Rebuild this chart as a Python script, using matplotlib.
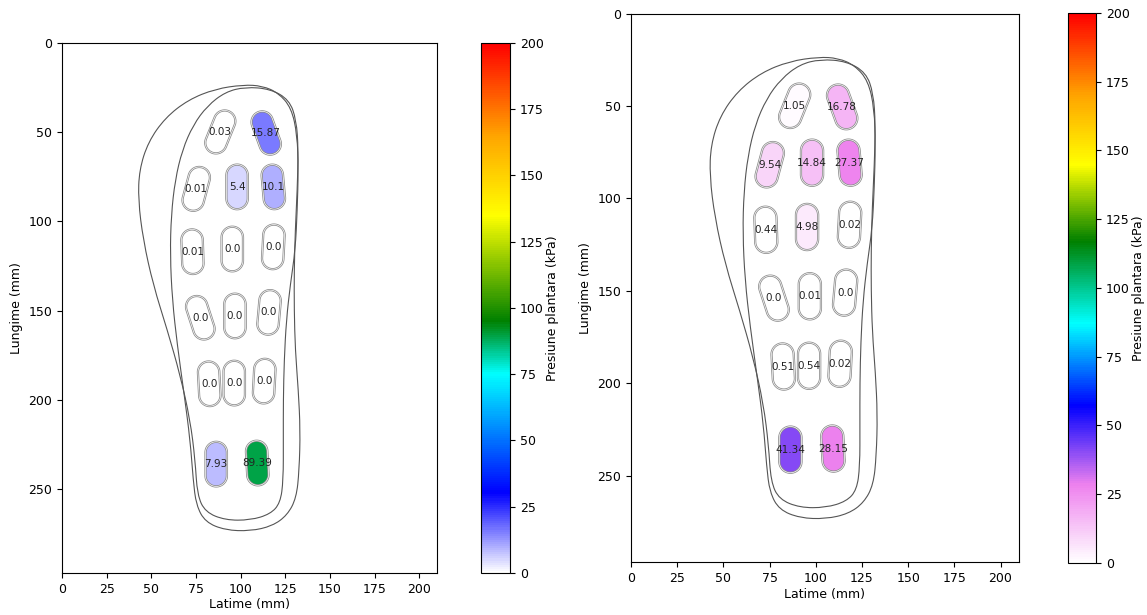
import numpy as np
import matplotlib
matplotlib.use('Agg')
import matplotlib.pyplot as plt
from matplotlib.colors import LinearSegmentedColormap, Normalize
from matplotlib.path import Path
from matplotlib.patches import PathPatch, Polygon
from matplotlib.cm import ScalarMappable

# Sensor centres on the insole (mm) and tilt of each sensor (deg, + = top leans right)
sensor_x = [88.6, 114.3, 75.1, 98.0, 118.3, 73.0, 95.3, 118.3,
            77.4, 96.8, 115.9, 82.4, 96.4, 113.2, 86.3, 109.3]
sensor_y = [49.9, 50.5, 81.8, 80.7, 80.7, 117.0, 115.5, 114.3,
            154.0, 153.0, 151.0, 191.0, 190.6, 189.5, 236.0, 235.4]
sensor_tilt = [22, -20, 15, 0, -5, -2, 0, 3, -18, 0, 5, -3, 0, 3, 0, -3]

# Plantar pressure (kPa) per sensor
pressure_left = [0.03, 15.87, 0.01, 5.4, 10.1, 0.01, 0.0, 0.0,
                 0.0, 0.0, 0.0, 0.0, 0.0, 0.0, 7.93, 89.39]
pressure_right = [1.05, 16.78, 9.54, 14.84, 27.37, 0.44, 4.98, 0.02,
                  0.0, 0.01, 0.0, 0.51, 0.54, 0.02, 41.34, 28.15]

# Foot outline (mm)
foot_x = [101.5, 85.8, 70.6, 57.7, 48.2, 43.2, 42.6, 45.4, 51.0, 58.9, 66.1,
          71.7, 74.5, 75.7, 80.2, 91.4, 105.4, 116.6, 122.2, 123.9, 123.9,
          123.9, 124.4, 125.6, 127.8, 130.6, 131.7, 132.3, 131.7, 128.4,
          121.1, 112.1]
foot_y = [23.5, 25.8, 31.9, 42.0, 55.5, 71.2, 88.0, 110.4, 135.6, 160.9, 186.1,
          211.3, 233.7, 253.3, 262.9, 267.4, 267.4, 264.0, 257.8, 244.9, 222.5,
          200.1, 177.7, 155.3, 135.6, 116.0, 93.6, 71.2, 51.6, 36.4, 28.0, 24.1]

# Insole outline (mm)
insole_x = [102.6, 91.4, 81.3, 73.4, 67.3, 63.3, 61.1, 60.5, 61.7, 64.5, 68.4,
            71.7, 73.4, 75.1, 80.2, 91.4, 105.4, 117.7, 126.1, 131.2, 132.8,
            133.4, 132.3, 130.6, 130.0, 130.0, 130.6, 131.7, 132.3, 131.2,
            127.2, 116.6]
insole_y = [24.7, 27.5, 35.3, 46.0, 60.0, 76.8, 96.4, 118.8, 144.0, 169.3, 197.3,
            222.5, 244.9, 259.0, 268.5, 273.0, 273.5, 270.7, 264.6, 255.0, 239.3,
            216.9, 194.5, 172.1, 149.7, 127.2, 104.8, 82.4, 60.0, 43.2, 31.9, 25.8]

cmap_left = LinearSegmentedColormap.from_list('left', [
    (0.0, '#ffffff'), (30/200, '#0000ff'), (75/200, '#00ffff'),
    (95/200, '#008000'), (135/200, '#ffff00'), (165/200, '#ffa500'),
    (1.0, '#ff0000')])
cmap_right = LinearSegmentedColormap.from_list('right', [
    (0.0, '#ffffff'), (28/200, '#ee82ee'), (57/200, '#0000ff'),
    (87/200, '#00ffff'), (117/200, '#008000'), (145/200, '#ffff00'),
    (170/200, '#ffa500'), (1.0, '#ff0000')])
norm = Normalize(0, 200)


def capsule(cx, cy, tilt, w=12.0, l=25.0, n=30):
    r = w / 2
    h = l / 2 - r
    t = np.radians(tilt)
    c = np.array([cx, cy])
    u = np.array([np.sin(t), -np.cos(t)])
    v = np.array([np.cos(t), np.sin(t)])
    pts = []
    for a in np.linspace(0, np.pi, n):
        pts.append(c + h * u + r * (np.cos(a) * v + np.sin(a) * u))
    for a in np.linspace(np.pi, 2 * np.pi, n):
        pts.append(c - h * u + r * (np.cos(a) * v + np.sin(a) * u))
    return np.array(pts)


def smooth_outline(xs, ys):
    p = np.column_stack([xs, ys])
    n = len(p)
    verts = [(p[0] + p[1]) / 2]
    codes = [Path.MOVETO]
    for i in range(n):
        verts.append(p[(i + 1) % n])
        verts.append((p[(i + 1) % n] + p[(i + 2) % n]) / 2)
        codes += [Path.CURVE3, Path.CURVE3]
    return Path(verts, codes)


def draw_panel(ax, cax, values, cmap, fs):
    for xs, ys in [(foot_x, foot_y), (insole_x, insole_y)]:
        ax.add_patch(PathPatch(smooth_outline(xs, ys), fill=False,
                               edgecolor='#555555', lw=0.8))
    for x, y, t, v in zip(sensor_x, sensor_y, sensor_tilt, values):
        pts = capsule(x, y, t)
        ax.add_patch(Polygon(pts, closed=True, facecolor=cmap(norm(v)),
                             edgecolor='#8a8a8a', lw=1.6, zorder=3))
        ax.add_patch(Polygon(pts, closed=True, fill=False,
                             edgecolor='white', lw=0.5, zorder=3))
        ax.text(x, y, str(v), ha='center', va='center', fontsize=7.5,
                color='#222222', zorder=4)
    ax.set_xlim(0, 210)
    ax.set_ylim(297, 0)
    ax.set_aspect('equal')
    ax.set_xticks(np.arange(0, 201, 25))
    ax.set_yticks(np.arange(0, 251, 50))
    ax.tick_params(labelsize=fs)
    ax.set_xlabel('Latime (mm)', fontsize=fs, labelpad=2)
    ax.set_ylabel('Lungime (mm)', fontsize=fs)
    cb = plt.colorbar(ScalarMappable(norm=norm, cmap=cmap), cax=cax)
    cb.set_ticks(np.arange(0, 201, 25))
    cb.ax.tick_params(labelsize=fs)
    cb.set_label('Presiune plantara (kPa)', fontsize=9, labelpad=2)


fig = plt.figure(figsize=(11.47, 6.15), dpi=100)
ax1 = fig.add_axes([0.0541, 0.0683, 0.327, 0.862])
cax1 = fig.add_axes([0.4194, 0.0683, 0.0253, 0.862])
ax2 = fig.add_axes([0.5501, 0.0846, 0.3383, 0.8943])
cax2 = fig.add_axes([0.9311, 0.0846, 0.0244, 0.8943])

draw_panel(ax1, cax1, pressure_left, cmap_left, 9)
draw_panel(ax2, cax2, pressure_right, cmap_right, 9)

fig.savefig('out.png', dpi=100)
